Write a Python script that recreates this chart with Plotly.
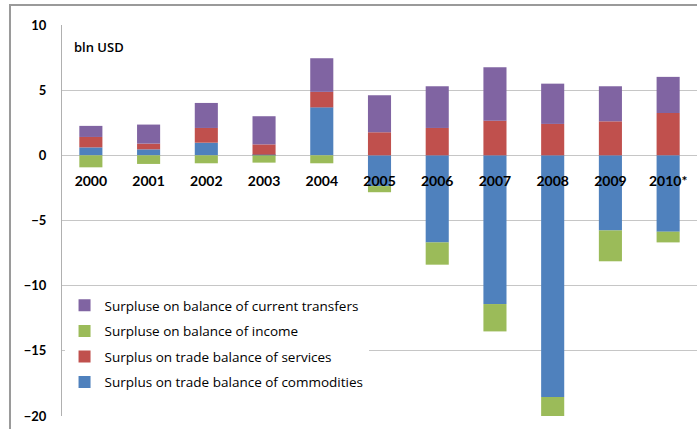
import plotly.graph_objects as go

years = ["2000", "2001", "2002", "2003", "2004", "2005", "2006", "2007", "2008", "2009", "2010*"]
commodities = [0.61, 0.46, 0.97, 0.05, 3.68, -2.36, -6.68, -11.41, -18.54, -5.76, -5.86]
services = [0.80, 0.44, 1.13, 0.79, 1.19, 1.77, 2.10, 2.66, 2.41, 2.61, 3.25]
income = [-0.92, -0.66, -0.61, -0.56, -0.61, -0.47, -1.71, -2.10, -1.49, -2.37, -0.82]
transfers = [0.85, 1.46, 1.92, 2.16, 2.58, 2.84, 3.20, 4.09, 3.09, 2.69, 2.77]

names = [
    "Surplus on trade balance of commodities",
    "Surplus on trade balance of services",
    "Surpluse on balance of income",
    "Surpluse on balance of current transfers",
]
series = [commodities, services, income, transfers]
colors = ["#4F81BD", "#C0504D", "#9BBB59", "#8064A2"]
legend_ranks = [4, 3, 2, 1]

FONT = "Lato"
LFONT = "Open Sans"

fig = go.Figure()
for nm, vals, col, rk in zip(names, series, colors, legend_ranks):
    fig.add_trace(go.Bar(
        x=years, y=vals, name=nm, legendgroup=nm, legendrank=rk,
        marker=dict(color=col, line=dict(width=0)),
    ))

fig.update_layout(
    width=697, height=429,
    barmode="relative", bargap=0.6,
    plot_bgcolor="white", paper_bgcolor="white",
    margin=dict(l=62, r=0, t=25, b=13),
    font=dict(family=FONT, color="black"),
    showlegend=True,
    legend=dict(
        traceorder="grouped", tracegroupgap=5,
        x=0.004, y=0.322, xanchor="left", yanchor="top",
        bgcolor="white", borderwidth=0,
        font=dict(family=LFONT, size=13.5, color="black"),
    ),
    xaxis=dict(
        type="category", anchor="free", position=2/3,
        showline=False, showgrid=False, zeroline=False,
        ticks="", ticklabelstandoff=16,
        tickfont=dict(family=FONT, size=14, color="black", weight="bold"),
    ),
    yaxis=dict(
        range=[-20, 10], dtick=5, showgrid=True, gridcolor="#c6c6c6", gridwidth=1,
        zeroline=True, zerolinecolor="#c6c6c6", zerolinewidth=1,
        showline=True, linecolor="#b0b0b0", linewidth=1,
        ticks="", ticklabelstandoff=12,
        tickfont=dict(family=FONT, size=13, color="black", weight="bold"),
    ),
)

fig.add_annotation(
    text="bln USD", xref="paper", yref="y", x=0.0157, y=8.35,
    xanchor="left", yanchor="middle", showarrow=False,
    font=dict(family=LFONT, size=13, color="black", weight=600),
)

fig.add_shape(
    type="rect", xref="paper", yref="paper",
    x0=-0.0819, x1=1.3, y0=-0.3, y1=1.0512,
    line=dict(color="#9a9a9a", width=2), layer="below",
)

fig.write_html("out.html")
